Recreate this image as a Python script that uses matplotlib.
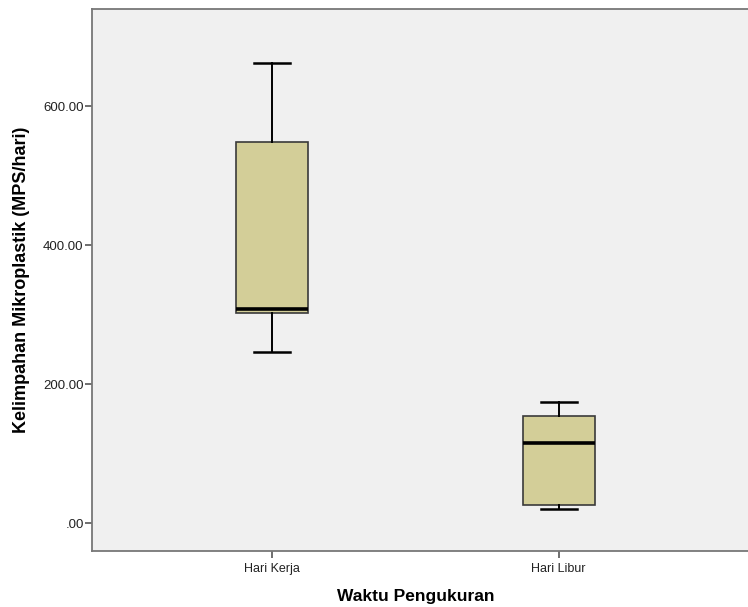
import matplotlib.pyplot as plt

plt.rcParams['font.family'] = ['Liberation Sans', 'DejaVu Sans']

# 箱线图统计量
kategori = ["Hari Kerja", "Hari Libur"]
whisker_bawah = [247, 21]
q1 = [302, 27]
median = [308, 115]
q3 = [548, 155]
whisker_atas = [662, 174]

y_ticks = [0, 200, 400, 600]
y_tick_labels = [".00", "200.00", "400.00", "600.00"]

stats = []
for i, nama in enumerate(kategori):
    stats.append({
        "label": nama,
        "whislo": whisker_bawah[i],
        "q1": q1[i],
        "med": median[i],
        "q3": q3[i],
        "whishi": whisker_atas[i],
    })

fig = plt.figure(figsize=(7.48, 6.07), dpi=100)
ax = fig.add_axes([92 / 748, 1 - 550.5 / 607, 1 - 92 / 748, (550.5 - 9) / 607])
ax.set_facecolor('#f0f0f0')

ax.bxp(stats, positions=[1, 2], widths=0.25, patch_artist=True,
       showfliers=False,
       boxprops=dict(facecolor='#d3ce98', edgecolor='#3a3a3a', linewidth=1.2),
       medianprops=dict(color='black', linewidth=2.6),
       whiskerprops=dict(color='black', linewidth=1.4),
       capprops=dict(color='black', linewidth=1.8),
       capwidths=0.125)

ax.set_xlim(0.373, 2.66)
ax.set_ylim(-39, 740)
ax.set_yticks(y_ticks)
ax.set_yticklabels(y_tick_labels)
ax.set_xticks([1, 2])
ax.set_xticklabels(kategori)

for side in ['left', 'bottom', 'top']:
    ax.spines[side].set_color('#777777')
    ax.spines[side].set_linewidth(1.3)
ax.spines['right'].set_visible(False)

ax.tick_params(axis='y', direction='out', length=5, width=1.2, color='#555555',
               labelsize=9.5, labelcolor='#222222', pad=1)
ax.tick_params(axis='x', direction='out', length=5, width=1.2, color='#555555',
               labelsize=9, labelcolor='#222222', pad=4)

fig.text(22 / 748, 1 - 280 / 607, "Kelimpahan Mikroplastik (MPS/hari)",
         rotation=90, ha='center', va='center', fontsize=13, fontweight='bold')
fig.text(416 / 748, 1 - 597 / 607, "Waktu Pengukuran",
         ha='center', va='center', fontsize=12.5, fontweight='bold')

plt.savefig("out.png", dpi=100)
plt.close()
